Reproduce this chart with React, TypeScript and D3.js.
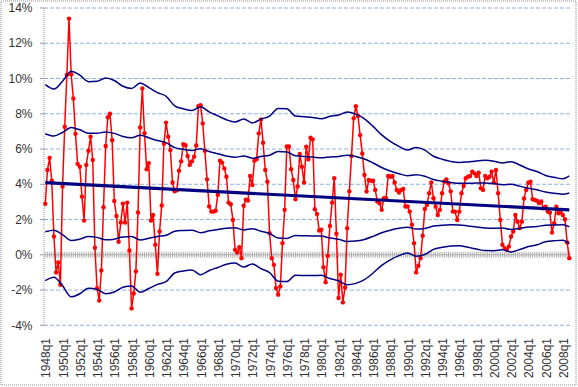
import React from "react";
import * as d3 from "d3";

// US real GDP growth, year over year (%), quarterly from 1948q1
const startYear = 1948;
const growth: number[] = [
  2.89, 4.81, 5.5, 4.2, 1.04, -1.0, -0.43, -1.7,
  3.87, 7.26, 10.2, 13.4, 10.24, 8.87, 6.86, 5.16,
  5.0, 3.3, 1.94, 5.1, 5.9, 6.7, 5.38, 0.4,
  -1.9, -2.59, -0.89, 2.7, 6.17, 7.8, 8.0, 6.5,
  3.05, 2.2, 0.74, 1.83, 2.9, 1.83, 2.96, 0.24,
  -3.04, -2.2, -0.94, 2.4, 7.22, 9.43, 6.9, 4.85,
  5.2, 1.94, 2.26, 0.57, -1.08, 1.32, 2.8, 6.3,
  7.5, 6.7, 5.94, 4.1, 3.6, 3.66, 4.77, 5.3,
  6.28, 6.22, 5.6, 5.1, 5.3, 5.56, 6.2, 8.43,
  8.49, 7.45, 5.9, 4.28, 2.74, 2.45, 2.45, 2.5,
  3.4, 5.34, 5.23, 4.9, 4.43, 2.96, 2.87, 1.98,
  0.28, 0.13, 0.43, -0.19, 2.78, 3.12, 3.08, 4.47,
  3.96, 5.34, 5.42, 6.89, 7.68, 6.36, 4.81, 4.15,
  1.23, -0.19, -0.57, -1.89, -2.26, -1.79, 0.66, 2.55,
  6.14, 6.14, 4.85, 4.24, 3.15, 3.87, 5.72, 5.0,
  4.1, 6.13, 5.41, 6.64, 6.55, 2.59, 2.32, 1.38,
  1.42, -0.7, -1.56, -0.06, 1.64, 2.96, 4.34, 1.2,
  -2.45, -1.13, -2.7, -1.85, 1.51, 3.6, 5.61, 7.74,
  8.43, 7.87, 6.79, 5.75, 4.53, 3.59, 4.24, 4.2,
  4.2, 3.68, 3.02, 2.93, 2.55, 3.21, 3.21, 4.47,
  4.43, 4.47, 4.1, 3.68, 3.53, 3.68, 3.73, 2.74,
  2.74, 2.45, 1.7, 0.66, -1.0, -0.62, -0.19, 1.08,
  2.6, 2.83, 3.49, 4.1, 3.21, 2.73, 2.26, 2.55,
  3.49, 4.15, 4.28, 4.06, 3.6, 2.45, 2.45, 1.98,
  2.45, 3.49, 3.9, 4.34, 4.43, 4.47, 4.72, 4.62,
  4.47, 4.66, 3.77, 3.68, 4.47, 4.34, 4.43, 4.72,
  4.1, 4.81, 3.49, 1.98, 0.57, 0.38, 0.28, 0.47,
  1.04, 1.32, 2.26, 1.88, 1.51, 1.88, 3.2, 3.68,
  4.09, 4.15, 3.15, 3.11, 3.07, 2.93, 3.02, 2.64,
  2.73, 2.45, 2.39, 1.26, 1.79, 2.73, 2.36, 2.39,
  2.26, 2.02, 0.7, -0.19,
];

// linear trend (start and end values, %)
const trendStart = 4.09;
const trendEnd = 2.55;

// band width (one standard deviation, %) read at each year's first quarter, plus the last quarter
const bandSigma: number[] = [
  2.78, 2.67, 2.9, 3.2, 3.1, 2.93, 2.95, 3.06, 3.0, 2.85,
  2.8, 2.97, 2.85, 2.72, 2.63, 2.37, 2.3, 2.26, 2.38, 2.25,
  2.15, 2.05, 2.0, 2.1, 2.0, 2.12, 2.22, 2.45, 2.45, 2.26,
  2.25, 2.24, 2.22, 2.3, 2.35, 2.45, 2.4, 2.28, 2.08, 1.85,
  1.68, 1.55, 1.46, 1.54, 1.48, 1.32, 1.25, 1.2, 1.18, 1.21,
  1.25, 1.28, 1.27, 1.23, 1.28, 1.2, 1.1, 1.04, 0.94, 0.9,
  0.87, 0.96,
];
const bandMultiples = [2, 1, -1, -2];

const yTicks = [-4, -2, 0, 2, 4, 6, 8, 10, 12, 14];
const tickLabels = [
  "1948q1", "1950q1", "1952q1", "1954q1", "1956q1", "1958q1", "1960q1", "1962q1",
  "1964q1", "1966q1", "1968q1", "1970q1", "1972q1", "1974q1", "1976q1", "1978q1",
  "1980q1", "1982q1", "1984q1", "1986q1", "1988q1", "1990q1", "1992q1", "1994q1",
  "1996q1", "1998q1", "2000q1", "2002q1", "2004q1", "2006q1", "2008q1",
];

const FONT = "'Liberation Sans', Arial, sans-serif";

export default function App() {
  const W = 578;
  const H = 387;
  const n = growth.length;
  const plotL = 44;
  const plotR = 571;
  const x = d3.scaleLinear().domain([0, n - 1]).range([45.3, 569.3]);
  const y = d3.scaleLinear().domain([-4, 14]).range([325.3, 8]);
  const trend = d3.scaleLinear().domain([0, n - 1]).range([trendStart, trendEnd]);

  const bandIdx = bandSigma.map((_, j) => (j < bandSigma.length - 1 ? j * 4 : n - 1));

  const line = d3
    .line<number>()
    .x((_, i) => x(i))
    .y((d) => y(d));

  const bandLine = (k: number) =>
    d3
      .line<number>()
      .x((_, j) => x(bandIdx[j]))
      .y((s, j) => y(trend(bandIdx[j]) + k * s))
      .curve(d3.curveMonotoneX)(bandSigma) as string;

  const trendPath = d3
    .line<number>()
    .x((i) => x(i))
    .y((i) => y(trend(i)))([0, n - 1]) as string;

  const idxOfLabel = (lab: string) => {
    const yr = parseInt(lab.slice(0, 4), 10);
    const q = parseInt(lab.slice(5), 10);
    return (yr - startYear) * 4 + (q - 1);
  };

  return (
    <svg
      width={W}
      height={H}
      style={{ position: "absolute", left: 0, top: 0, display: "block", background: "#fff" }}
      fontFamily={FONT}
    >
      <rect x={0} y={0} width={W} height={H} fill="#fff" />
      <rect
        x={1}
        y={1}
        width={W - 3}
        height={H - 3}
        fill="none"
        stroke="#8c8c8c"
        strokeDasharray="1,1"
      />
      {/* gridlines */}
      {yTicks
        .filter((t) => t !== 0)
        .map((t) => (
          <line
            key={"g" + t}
            x1={plotL}
            x2={plotR}
            y1={y(t)}
            y2={y(t)}
            stroke="#8db4e2"
            strokeWidth={1}
            strokeDasharray="4,2"
          />
        ))}
      {/* y axis */}
      <line x1={plotL} x2={plotL} y1={y(14)} y2={y(-4)} stroke="#9a9a9a" strokeDasharray="1,1" />
      {yTicks.map((t) => (
        <g key={"yt" + t}>
          <line x1={plotL - 4} x2={plotL} y1={y(t)} y2={y(t)} stroke="#9a9a9a" />
          <text
            x={32.5}
            y={y(t) + 4.2}
            textAnchor="end"
            fontSize={12}
            fill="#333"
          >
            {t + "%"}
          </text>
        </g>
      ))}
      {/* category axis at zero with tick marks */}
      <line x1={plotL} x2={plotR} y1={y(0)} y2={y(0)} stroke="#a6a6a6" />
      {growth.map((_, i) => (
        <line
          key={"ct" + i}
          x1={x(i)}
          x2={x(i)}
          y1={y(0) - 3}
          y2={y(0) + 3}
          stroke="#b0b0b0"
          strokeWidth={1}
        />
      ))}
      {/* x labels */}
      {tickLabels.map((lab) => {
        const i = idxOfLabel(lab);
        return (
          <text
            key={lab}
            transform={`translate(${x(i) + 5},338) rotate(-90)`}
            textAnchor="end"
            fontSize={12}
            fill="#333"
          >
            {lab}
          </text>
        );
      })}
      {/* data series */}
      <path d={line(growth) as string} fill="none" stroke="#ff0000" strokeWidth={1.5} />
      {growth.map((d, i) => (
        <circle key={"p" + i} cx={x(i)} cy={y(d)} r={2.2} fill="#ff0000" />
      ))}
      {/* bands */}
      {bandMultiples.map((k) => (
        <path key={"b" + k} d={bandLine(k)} fill="none" stroke="#000080" strokeWidth={1.5} />
      ))}
      {/* trend */}
      <path d={trendPath} fill="none" stroke="#000080" strokeWidth={3.2} />
    </svg>
  );
}
